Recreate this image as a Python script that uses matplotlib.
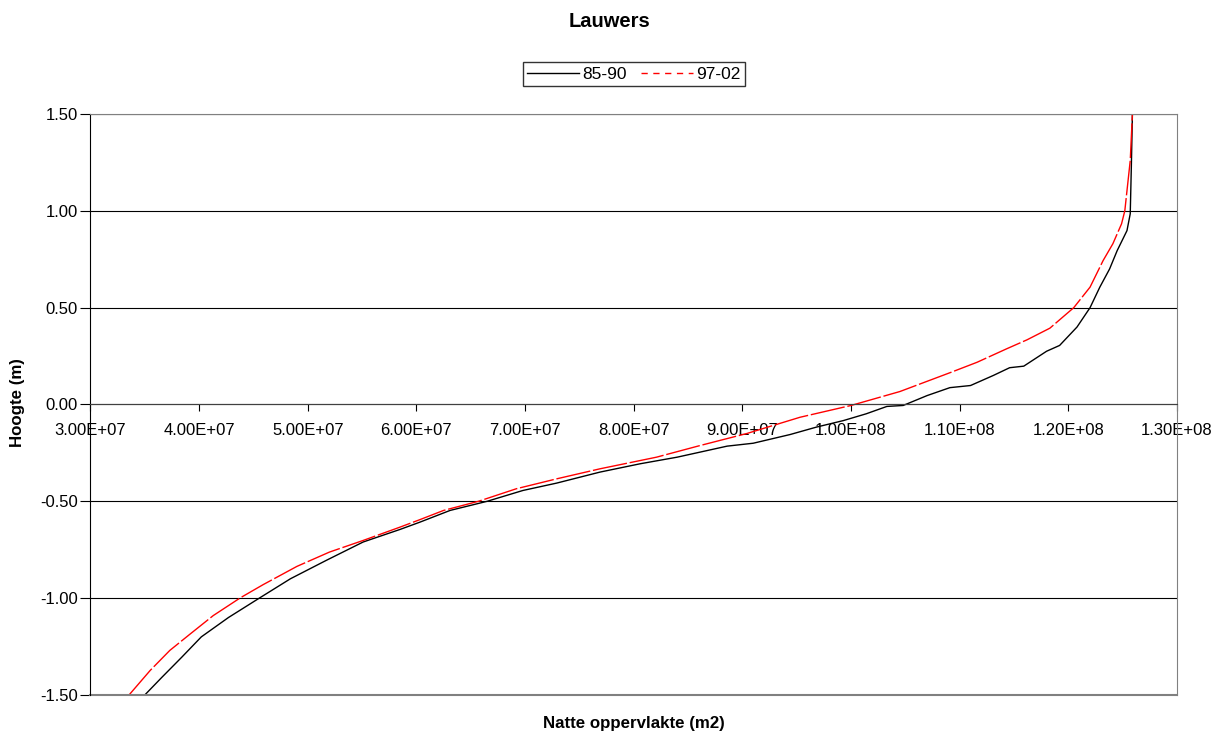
import matplotlib
matplotlib.use("Agg")
import matplotlib.pyplot as plt
from matplotlib.ticker import FuncFormatter
from matplotlib.lines import Line2D

plt.rcParams['font.family'] = ['Liberation Sans', 'DejaVu Sans']

# 85-90 (zwart)
x_8590 = [3.50e7, 3.655e7, 3.84e7, 4.02e7, 4.27e7, 4.545e7, 4.84e7, 5.17e7, 5.51e7, 5.85e7,
          6.03e7, 6.31e7, 6.65e7, 6.98e7, 7.29e7, 7.69e7, 8.06e7, 8.40e7, 8.61e7, 8.86e7,
          9.10e7, 9.44e7, 9.68e7, 9.93e7, 1.014e8, 1.033e8, 1.048e8, 1.070e8, 1.091e8, 1.110e8,
          1.131e8, 1.146e8, 1.159e8, 1.180e8, 1.192e8, 1.208e8, 1.220e8, 1.229e8, 1.238e8, 1.245e8,
          1.254e8, 1.257e8, 1.258e8, 1.259e8]
y_8590 = [-1.50, -1.41, -1.305, -1.20, -1.10, -1.003, -0.90, -0.805, -0.71, -0.645,
          -0.608, -0.547, -0.50, -0.444, -0.406, -0.349, -0.306, -0.272, -0.246, -0.215,
          -0.20, -0.155, -0.117, -0.083, -0.048, -0.01, -0.005, 0.046, 0.087, 0.098,
          0.15, 0.19, 0.198, 0.275, 0.305, 0.40, 0.50, 0.606, 0.70, 0.795,
          0.898, 0.985, 1.225, 1.50]

# 97-02 (rood)
x_9702 = [3.355e7, 3.55e7, 3.73e7, 3.92e7, 4.13e7, 4.38e7, 4.59e7, 4.90e7, 5.20e7, 5.51e7,
          5.85e7, 6.03e7, 6.25e7, 6.57e7, 6.92e7, 7.29e7, 7.69e7, 8.21e7, 8.61e7, 9.04e7,
          9.53e7, 1.00e8, 1.045e8, 1.091e8, 1.116e8, 1.143e8, 1.162e8, 1.183e8, 1.205e8, 1.220e8,
          1.232e8, 1.241e8, 1.249e8, 1.252e8, 1.257e8, 1.259e8]
y_9702 = [-1.50, -1.373, -1.27, -1.184, -1.09, -0.998, -0.93, -0.836, -0.762, -0.702,
          -0.633, -0.595, -0.547, -0.50, -0.435, -0.384, -0.332, -0.272, -0.212, -0.15,
          -0.066, -0.005, 0.067, 0.164, 0.218, 0.287, 0.334, 0.394, 0.50, 0.606,
          0.743, 0.83, 0.933, 1.00, 1.26, 1.50]

x_ticks = [3e7, 4e7, 5e7, 6e7, 7e7, 8e7, 9e7, 1e8, 1.1e8, 1.2e8, 1.3e8]
y_ticks = [-1.5, -1.0, -0.5, 0.0, 0.5, 1.0, 1.5]

fig = plt.figure(figsize=(12.26, 7.38), dpi=100)
ax = fig.add_axes([0.0738, 0.0583, 0.8862, 0.7872])

ax.plot(x_8590, y_8590, color='black', lw=1.0)
ax.plot(x_9702, y_9702, color='red', lw=1.0, dashes=(25, 2))

ax.set_xlim(3e7, 1.3e8)
ax.set_ylim(-1.5, 1.5)
ax.set_xticks(x_ticks)
ax.set_yticks(y_ticks)
ax.xaxis.set_major_formatter(FuncFormatter(lambda v, p: f"{v:.2E}"))
ax.yaxis.set_major_formatter(FuncFormatter(lambda v, p: f"{v:.2f}"))
ax.tick_params(axis='both', labelsize=12, direction='out', width=0.8, color='black')
ax.tick_params(axis='x', length=5, pad=8)
ax.tick_params(axis='y', length=7, pad=2)

ax.grid(axis='y', color='black', lw=0.8)
ax.set_axisbelow(True)

ax.spines['bottom'].set_position(('data', 0))
ax.spines['bottom'].set_color('#404040')
ax.spines['left'].set_color('black')
ax.spines['top'].set_color('#808080')
ax.spines['right'].set_color('#808080')
ax.axhline(-1.5, color='#808080', lw=1.5, clip_on=False)

fig.text(0.497, 0.9715, "Lauwers", ha='center', va='center', fontsize=14.5, fontweight='bold')
fig.text(0.517, 0.020, "Natte oppervlakte (m2)", ha='center', va='center', fontsize=12.2, fontweight='bold')
fig.text(0.014, 0.455, "Hoogte (m)", ha='center', va='center', rotation=90, fontsize=12.2, fontweight='bold')

handles = [Line2D([], [], color='black', lw=1.0),
           Line2D([], [], color='red', lw=1.0, dashes=(4.5, 4))]
leg = fig.legend(handles, ['85-90', '97-02'], loc='center', bbox_to_anchor=(0.517, 0.8997), ncol=2,
                 fontsize=12.5, frameon=True, fancybox=False, edgecolor='black', handlelength=3.0,
                 handletextpad=0.2, columnspacing=0.8, borderpad=0.25)
leg.get_frame().set_linewidth(1.0)

plt.savefig("out.png", dpi=100)
plt.close()
